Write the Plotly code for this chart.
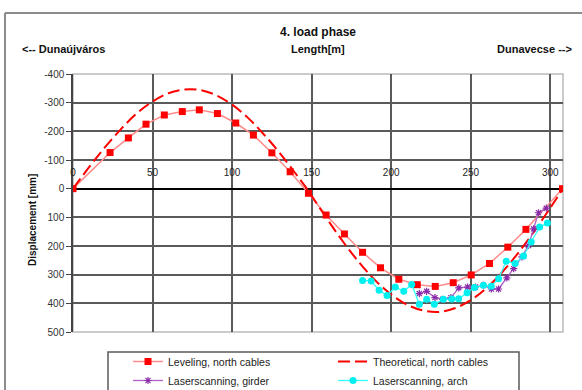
import plotly.graph_objects as go

W, H = 582, 390
ML, MR, MT, MB = 73, 19, 74, 58

# ---------------- data ----------------
lev_x = [0, 23.3, 34.8, 45.9, 57.4, 68.7, 79.4, 90.8, 102.3, 113.4, 125.0, 136.5, 148.0,
         159.1, 170.6, 182.0, 193.3, 204.8, 216.4, 227.7, 239.0, 250.3, 261.8, 273.3, 284.7, 307.7]
lev_y = [0, -126, -177, -225, -257, -269, -275, -262, -229, -187, -125, -59, 16,
         92, 158, 222, 276, 316, 335, 341, 328, 301, 261, 204, 142, 0]

theo_x = [0, 10, 20, 30, 40, 50, 60, 70, 80, 90, 100, 110, 120, 130, 140, 147,
          150, 160, 170, 180, 190, 200, 210, 220, 230, 240, 250, 260, 270, 280, 290, 300, 308]
theo_y = [0, -74, -144, -207, -262, -304, -333, -346, -344, -326, -293, -247, -189, -124, -52, 0,
          25, 108, 187, 258, 320, 369, 405, 425, 430, 417, 389, 346, 290, 223, 148, 67, 0]

gir_x = [217.7, 222.3, 227.5, 232.3, 237.5, 242.5, 248.0, 253.0, 258.0, 263.0, 267.5,
         272.7, 277.0, 282.2, 286.3, 289.5, 292.6, 297.5]
gir_y = [366, 358, 380, 386, 380, 346, 343, 343, 337, 350, 350,
         311, 279, 238, 198, 140, 84, 68]

arch_x = [182.0, 187.4, 192.4, 197.4, 202.6, 207.9, 212.9, 217.7, 222.3, 227.1, 232.8, 238.1,
          242.4, 247.7, 252.4, 258.0, 262.9, 267.5, 272.3, 277.9, 283.2, 288.0, 293.3, 298.2]
arch_y = [320, 322, 354, 373, 343, 358, 334, 403, 386, 403, 386, 385,
          384, 363, 345, 337, 340, 314, 253, 261, 235, 186, 134, 120]

x_ticks = [0, 50, 100, 150, 200, 250, 300]
y_ticks = [-400, -300, -200, -100, 0, 100, 200, 300, 400, 500]
y_ticktext = ["-400", "-300", "-200", "-100", "0", "100", "200", "300", "400", "500"]

names = ["Leveling, north cables", "Theoretical, north cables",
         "Laserscanning, girder", "Laserscanning, arch"]

FONT = "Liberation Sans, Arial, sans-serif"

# ---------------- helpers for pixel placement ----------------
PW = W - ML - MR
PH = H - MT - MB


def fx(px):
    return (px - ML) / PW


def fy(py):
    return (H - MB - py) / PH


fig = go.Figure()

fig.add_trace(go.Scatter(
    x=lev_x, y=lev_y, name=names[0], mode="lines+markers",
    line=dict(color="#FF8C8C", width=1.5),
    marker=dict(symbol="square", size=7, color="#FF0000"),
))
fig.add_trace(go.Scatter(
    x=theo_x, y=theo_y, name=names[1], mode="lines",
    line=dict(color="#FF0000", width=2, dash="12px,5px", shape="spline"),
))
fig.add_trace(go.Scatter(
    x=gir_x, y=gir_y, name=names[2], mode="lines+markers",
    line=dict(color="#B060C8", width=1.3),
    marker=dict(symbol="asterisk-open", size=6, color="#8A2BA8",
                line=dict(color="#8A2BA8", width=1.2)),
))
fig.add_trace(go.Scatter(
    x=arch_x, y=arch_y, name=names[3], mode="lines+markers",
    line=dict(color="#33FFFF", width=1.3),
    marker=dict(symbol="circle", size=7, color="#00F0F0"),
))

fig.update_layout(
    width=W, height=H,
    margin=dict(l=ML, r=MR, t=MT, b=MB, autoexpand=False),
    paper_bgcolor="white", plot_bgcolor="white",
    font=dict(family=FONT, size=10, color="#222"),
    showlegend=True,
    legend=dict(
        orientation="h", x=fx(128), y=fy(347), xanchor="left", yanchor="top",
        entrywidth=160, entrywidthmode="pixels", tracegroupgap=0,
        bgcolor="rgba(0,0,0,0)", borderwidth=0,
        font=dict(family=FONT, size=10.5, color="#222"),
    ),
    xaxis=dict(
        range=[0, 308], tickvals=x_ticks, ticktext=[str(v) for v in x_ticks],
        showgrid=True, gridcolor="#5a5a5a", gridwidth=1.5,
        zeroline=False, showline=False,
        ticks="outside", ticklen=9, tickcolor="rgba(0,0,0,0)",
        anchor="free", position=500 / 900, side="top",
        tickfont=dict(family=FONT, size=10, color="#222"),
        automargin=False, fixedrange=True,
    ),
    yaxis=dict(
        range=[500, -400], tickvals=y_ticks, ticktext=y_ticktext,
        showgrid=True, gridcolor="#5a5a5a", gridwidth=1.5,
        zeroline=True, zerolinecolor="#000", zerolinewidth=2,
        showline=True, linecolor="#444", linewidth=1.5,
        ticks="outside", ticklen=5, tickcolor="#444", tickwidth=1.2,
        tickfont=dict(family=FONT, size=10, color="#333"),
        automargin=False, fixedrange=True,
    ),
)

shapes = [
    # plot area border (light)
    dict(type="rect", xref="paper", yref="paper", x0=0, x1=1, y0=0, y1=1,
         line=dict(color="#BBBBBB", width=1.5), layer="between"),
    # chart area frame (left and top visible)
    dict(type="line", xref="paper", yref="paper", x0=fx(5), x1=fx(5), y0=fy(13), y1=fy(400),
         line=dict(color="#8C8C8C", width=2)),
    dict(type="line", xref="paper", yref="paper", x0=fx(5), x1=fx(600), y0=fy(13), y1=fy(13),
         line=dict(color="#8C8C8C", width=2)),
    # legend box
    dict(type="rect", xref="paper", yref="paper", x0=fx(108), x1=fx(519), y0=fy(352), y1=fy(405),
         line=dict(color="#5A5A5A", width=1.5)),
]
fig.update_layout(shapes=shapes)

annotations = [
    dict(text="<b>4. load phase</b>", x=fx(318), y=fy(32), font=dict(size=12)),
    dict(text="<b>Length[m]</b>", x=fx(318), y=fy(49), font=dict(size=11)),
    dict(text="<b>&lt;-- Dunaújváros</b>", x=fx(20), y=fy(49), xanchor="left", font=dict(size=11)),
    dict(text="<b>Dunavecse --&gt;</b>", x=fx(574), y=fy(49), xanchor="right", font=dict(size=11)),
    dict(text="<b>Displacement [mm]</b>", x=fx(32), y=fy(220), textangle=-90, font=dict(size=10)),
]
for a in annotations:
    a.setdefault("xanchor", "center")
    a.update(xref="paper", yref="paper", yanchor="middle", showarrow=False)
    a["font"] = dict(family=FONT, color="#111", **a["font"])
fig.update_layout(annotations=annotations)

fig.write_html("out.html", config={"displayModeBar": False},
               post_script="document.body.style.margin='0px';")
